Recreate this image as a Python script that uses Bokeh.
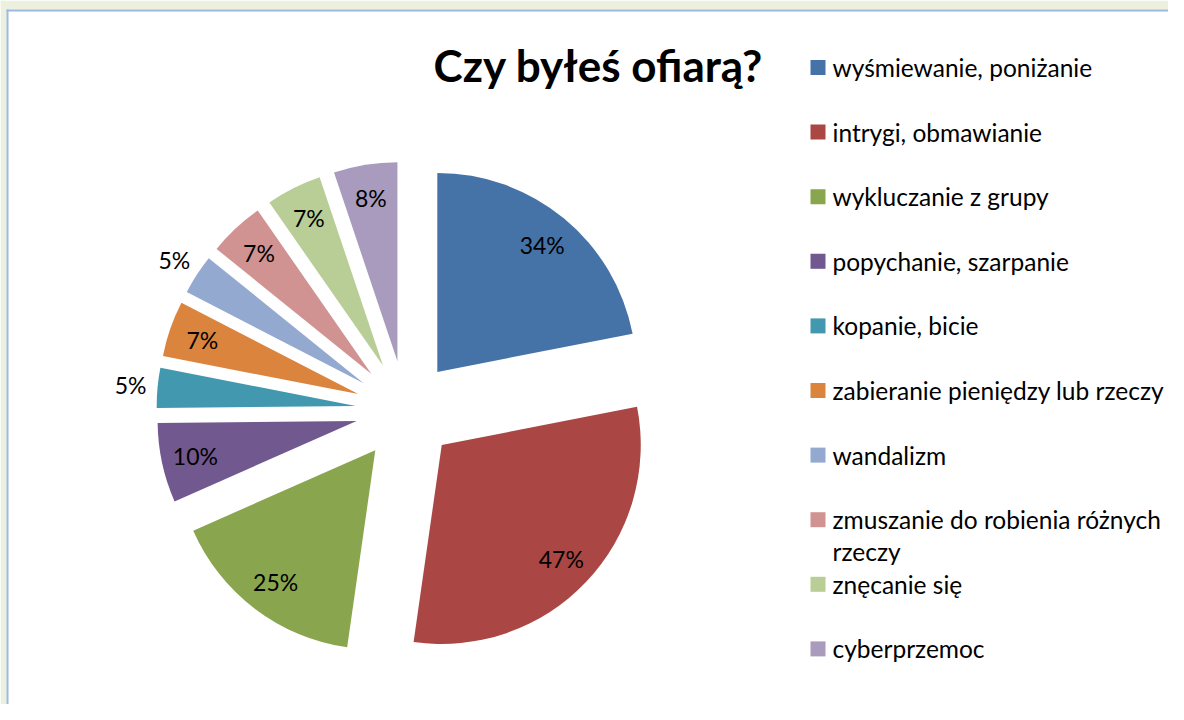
import textwrap
import numpy as np
from bokeh.plotting import figure
from bokeh.models import Range1d
from bokeh.core.properties import value
from bokeh.embed import file_html
from bokeh.resources import INLINE

# ---------------- data ----------------
title = "Czy byłeś ofiarą?"
categories = [
    "wyśmiewanie, poniżanie",
    "intrygi, obmawianie",
    "wykluczanie z grupy",
    "popychanie, szarpanie",
    "kopanie, bicie",
    "zabieranie pieniędzy lub rzeczy",
    "wandalizm",
    "zmuszanie do robienia różnych rzeczy",
    "znęcanie się",
    "cyberprzemoc",
]
values = [34, 47, 25, 10, 5, 7, 5, 7, 7, 8]
colors = ["#4572A7", "#AA4643", "#89A54E", "#71588F", "#4198AF",
          "#DB843D", "#93A9CF", "#D19392", "#B9CD96", "#A99BBD"]

# ---------------- figure (1 data unit = 1 px; y = 720 - image-y) ----------------
W, H = 1168, 704
p = figure(width=W, height=H, output_backend="svg", toolbar_location=None,
           x_range=Range1d(0, W), y_range=Range1d(720 - H, 720),
           x_axis_type=None, y_axis_type=None,
           min_border_left=0, min_border_top=0, min_border_right=0, min_border_bottom=0)
p.title.visible = False
p.outline_line_color = None
p.background_fill_color = "white"
p.border_fill_color = "white"

# frame decoration: light green margin and light blue border line
GREEN, BLUE = "#EBF1DE", "#9CB8E2"
p.quad(left=[0, 0], right=[W, 6], top=[720, 720], bottom=[711, 0],
       fill_color=GREEN, line_color=None)
p.quad(left=[6, 6], right=[W, 8], top=[711, 711], bottom=[709, 0],
       fill_color=BLUE, line_color=None)

FONT = value("Lato")

# ---------------- exploded pie ----------------
vals = np.array(values, dtype=float)
frac = vals / vals.sum()
ends = np.cumsum(frac) * 2 * np.pi
starts = ends - frac * 2 * np.pi
mids = (starts + ends) / 2

cx, cy = 405.0, 720 - 410.0
R = 199.0
explode = 50.0
wx = cx + explode * np.sin(mids)
wy = cy + explode * np.cos(mids)
p.wedge(x=wx, y=wy, radius=R,
        start_angle=np.pi / 2 - starts, end_angle=np.pi / 2 - ends,
        direction="clock", fill_color=colors, line_color=None)

# data labels (small slices outside)
lab_d = np.where(vals <= 5, 276.0, 215.0)
lx = cx + lab_d * np.sin(mids)
ly = cy + lab_d * np.cos(mids)
p.text(x=lx, y=ly, text=[f"{v}%" for v in values],
       text_align="center", text_baseline="middle",
       text_font=FONT, text_font_size="23px", text_color="black")

# ---------------- title ----------------
p.text(x=[598], y=[720 - 64], text=[title], text_align="center", text_baseline="middle",
       text_font=FONT, text_font_style="bold", text_font_size="44px", text_color="black")

# ---------------- legend ----------------
row_y = [720 - (67 + i * 64.6) for i in range(len(categories))]
p.scatter(x=[817.5] * len(categories), y=row_y, marker="square", size=15,
          fill_color=colors, line_color=None)
tx, ty, tt = [], [], []
for c, y in zip(categories, row_y):
    for j, line in enumerate(textwrap.wrap(c, 31)):
        tx.append(832)
        ty.append(y - j * 32)
        tt.append(line)
p.text(x=tx, y=ty, text=tt, text_align="left", text_baseline="middle",
       text_font=FONT, text_font_size="24.5px", text_color="black")

open("out.html", "w").write(file_html(p, INLINE, title=title))
